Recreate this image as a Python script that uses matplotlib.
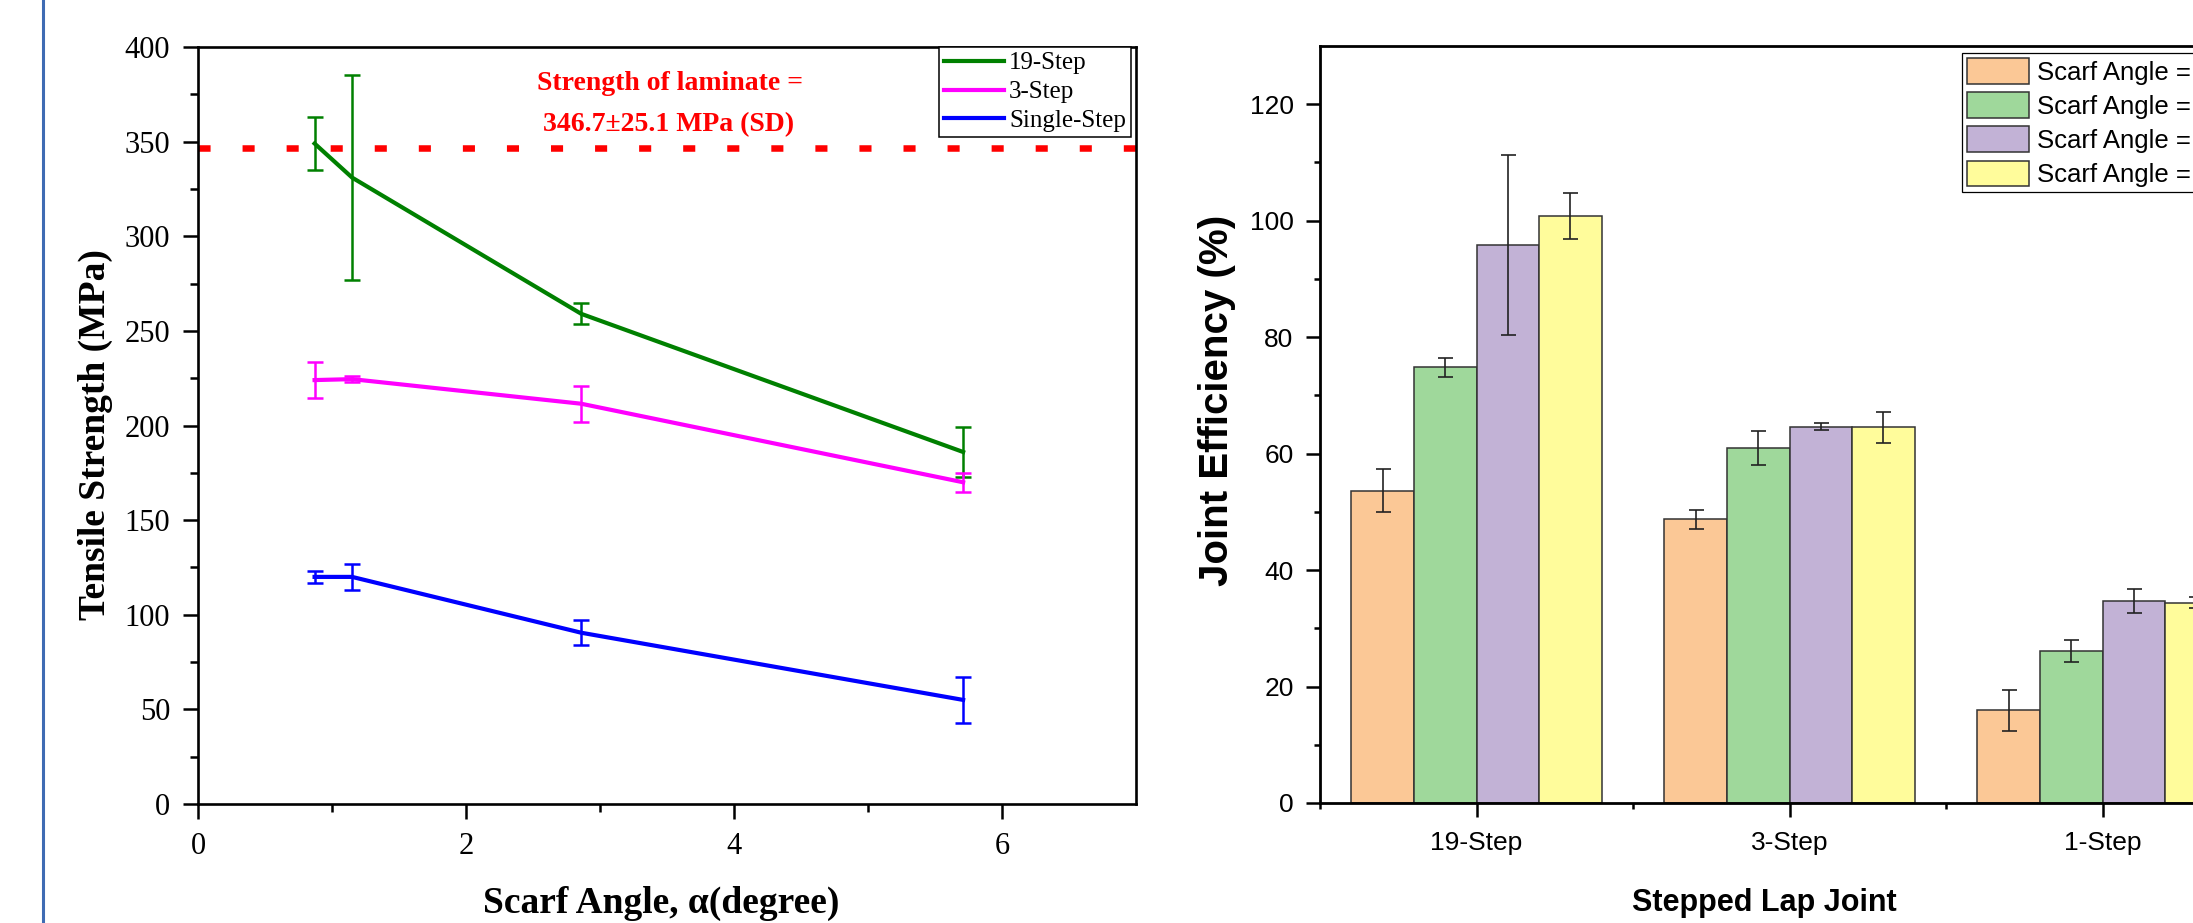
import numpy as np
import matplotlib
matplotlib.use("Agg")
import matplotlib.pyplot as plt
from matplotlib.lines import Line2D

# -----------------------
# Left panel data: tensile strength vs scarf angle
# -----------------------
scarf_angle = [0.87, 1.15, 2.86, 5.71]

step19_mean = [349, 331, 259, 186]
step19_sd = [14, 54, 5.5, 13]

step3_mean = [224, 224.5, 211.5, 170]
step3_sd = [9.5, 1.5, 9.5, 5]

single_mean = [120, 120, 90.5, 55]
single_sd = [3, 7, 6.7, 12]

laminate_strength = 346.7

# -----------------------
# Right panel data: joint efficiency per joint type
# (legend text is cut at the page edge in the original, only "Scarf Angle =" shows)
# -----------------------
joint_types = ["19-Step", "3-Step", "1-Step"]
angle_labels = ["Scarf Angle =", "Scarf Angle =", "Scarf Angle =", "Scarf Angle ="]
eff_571 = [53.6, 48.7, 15.9]
eff_571_sd = [3.7, 1.6, 3.5]
eff_286 = [74.8, 61.0, 26.1]
eff_286_sd = [1.7, 2.9, 1.9]
eff_115 = [95.8, 64.6, 34.7]
eff_115_sd = [15.5, 0.6, 2.1]
eff_087 = [100.8, 64.5, 34.4]
eff_087_sd = [4.0, 2.7, 0.9]

bar_colors = ["#FBC896", "#9FD89B", "#C2B2D6", "#FFFC9B"]

SERIF = "Liberation Serif"
SANS = "Liberation Sans"

fig = plt.figure(figsize=(21.93, 9.23), dpi=100)

# thin blue page border on the far left
fig.add_artist(Line2D([43 / 2193, 43 / 2193], [0, 1], color="#3F6BB3", lw=2.2))

# -----------------------
# Left panel
# -----------------------
ax1 = fig.add_axes([198 / 2193, 1 - 804 / 923, 938 / 2193, 757 / 923])

ax1.axhline(laminate_strength, color="red", lw=4.7,
            linestyle=(0, (1.85, 4.9)), dash_capstyle="butt", zorder=1)

series = [
    (step19_mean, step19_sd, "green", "19-Step"),
    (step3_mean, step3_sd, "#FF00FF", "3-Step"),
    (single_mean, single_sd, "#0000FF", "Single-Step"),
]
handles = []
for mean, sd, col, lab in series:
    ax1.errorbar(scarf_angle, mean, yerr=sd, color=col, lw=3.0,
                 elinewidth=1.8, capsize=5.8, capthick=1.8, zorder=3)
    handles.append(Line2D([], [], color=col, lw=3.0, label=lab))

ax1.set_xlim(0, 7)
ax1.set_ylim(0, 400)
ax1.set_xticks([0, 2, 4, 6])
ax1.set_xticks([1, 3, 5], minor=True)
ax1.set_yticks(np.arange(0, 401, 50))
ax1.set_yticks(np.arange(25, 400, 50), minor=True)
ax1.tick_params(which="major", direction="out", length=11, width=1.8,
                labelsize=22, pad=9)
ax1.tick_params(which="minor", direction="out", length=5.5, width=1.8)
for lbl in ax1.get_xticklabels() + ax1.get_yticklabels():
    lbl.set_fontfamily(SERIF)
for sp in ax1.spines.values():
    sp.set_linewidth(1.9)

leg1 = ax1.legend(handles=handles, loc="upper right",
                  bbox_to_anchor=(1 - 5 / 938, 1.0),
                  borderaxespad=0, prop={"family": SERIF, "size": 18},
                  frameon=True, fancybox=False, edgecolor="black",
                  framealpha=1, handlelength=2.4, handletextpad=0.2,
                  labelspacing=0.25, borderpad=0.2)
leg1.get_frame().set_linewidth(1.1)

fig.text(670 / 2193, 1 - 83 / 923, "Strength of laminate =", color="red",
         fontsize=20, fontweight="bold", family=SERIF, ha="center", va="center")
fig.text(669 / 2193, 1 - 125 / 923, "346.7±25.1 MPa (SD)", color="red",
         fontsize=20, fontweight="bold", family=SERIF, ha="center", va="center")

fig.text(95 / 2193, 1 - 435 / 923, "Tensile Strength (MPa)", rotation=90,
         fontsize=27, fontweight="bold", family=SERIF, ha="center", va="center")
fig.text(661 / 2193, 1 - 903 / 923, "Scarf Angle, α(degree)",
         fontsize=27, fontweight="bold", family=SERIF, ha="center", va="center")

# -----------------------
# Right panel (runs past the right edge like the original)
# -----------------------
ax2 = fig.add_axes([1320 / 2193, 1 - 803 / 923, 939 / 2193, 757 / 923])

x = np.arange(len(joint_types))
width = 0.2
groups = [(eff_571, eff_571_sd), (eff_286, eff_286_sd),
          (eff_115, eff_115_sd), (eff_087, eff_087_sd)]
for i, ((vals, sds), col, lab) in enumerate(zip(groups, bar_colors, angle_labels)):
    ax2.bar(x + (i - 1.5) * width, vals, width, yerr=sds, color=col,
            edgecolor="#333333", linewidth=1.1, label=lab,
            error_kw=dict(ecolor="#222222", elinewidth=1.2, capsize=5.4,
                          capthick=1.2), zorder=2)

ax2.set_xlim(-0.5, 2.5)
ax2.set_ylim(0, 130)
ax2.set_xticks(x)
ax2.set_xticklabels(joint_types)
ax2.set_xticks([-0.5, 0.5, 1.5, 2.5], minor=True)
ax2.set_yticks(np.arange(0, 121, 20))
ax2.set_yticks(np.arange(10, 121, 20), minor=True)
ax2.tick_params(which="major", direction="out", length=10, width=1.8,
                labelsize=19, pad=9)
ax2.tick_params(which="minor", direction="out", length=4.5, width=1.8)
ax2.tick_params(axis="x", which="major", pad=10)
for lbl in ax2.get_xticklabels() + ax2.get_yticklabels():
    lbl.set_fontfamily(SANS)
for sp in ax2.spines.values():
    sp.set_linewidth(2.0)

leg2 = ax2.legend(loc="upper left", bbox_to_anchor=((1962 - 1320) / 939, (803 - 53) / 757),
                  borderaxespad=0, prop={"family": SANS, "size": 18.5},
                  frameon=True, fancybox=False, edgecolor="black",
                  framealpha=1, handlelength=2.4, handleheight=1.15,
                  handletextpad=0.3, labelspacing=0.3, borderpad=0.2)
leg2.get_frame().set_linewidth(0.9)

fig.text(1217 / 2193, 1 - 400 / 923, "Joint Efficiency (%)", rotation=90,
         fontsize=29, fontweight="bold", family=SANS, ha="center", va="center")
fig.text(1764 / 2193, 1 - 903 / 923, "Stepped Lap Joint",
         fontsize=22, fontweight="bold", family=SANS, ha="center", va="center")

fig.savefig("out.png", dpi=100)
